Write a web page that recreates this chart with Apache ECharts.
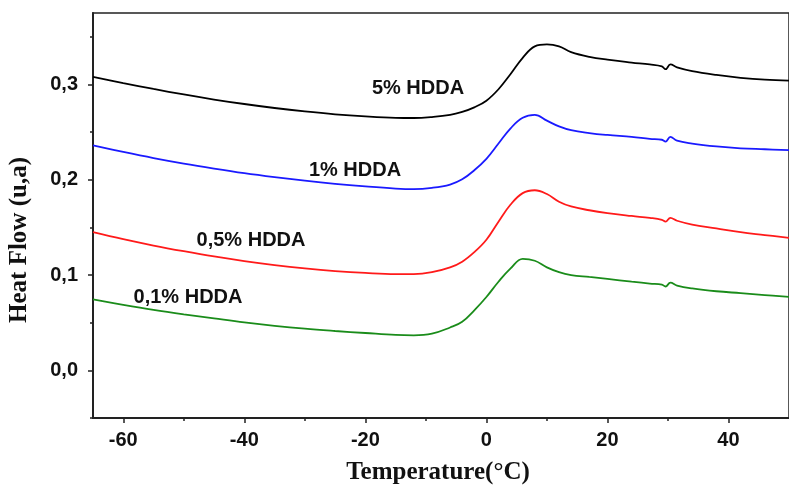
<!DOCTYPE html>
<html>
<head>
<meta charset="UTF-8">
<title>DSC HDDA</title>
<script src="https://cdn.jsdelivr.net/npm/echarts@6/dist/echarts.min.js"></script>
<style>
  html, body { margin: 0; padding: 0; background: #fff; }
  #chart { width: 789px; height: 489px; }
</style>
</head>
<body>
<div id="chart"></div>
<script>
// temperatures (°C)
var temps = [-65, -60, -55, -50, -45, -40, -35, -30, -25, -20, -15, -12, -9, -6, -4, -2, 0, 2, 4, 6, 8, 10, 12, 14, 17, 20, 24, 27, 29, 29.6, 30.4, 31.5, 34, 38, 42, 46, 50];

// heat flow (u,a) per sample
var hdda5  = [0.308, 0.3015, 0.2953, 0.2895, 0.2842, 0.2795, 0.2753, 0.2717, 0.2687, 0.2665, 0.265, 0.2648, 0.2658, 0.268, 0.2712, 0.276, 0.283, 0.295, 0.311, 0.328, 0.340, 0.342, 0.340, 0.334, 0.329, 0.326, 0.323, 0.321, 0.319, 0.316, 0.321, 0.318, 0.314, 0.310, 0.307, 0.305, 0.304];
var hdda1  = [0.236, 0.2292, 0.2228, 0.217, 0.2118, 0.207, 0.2028, 0.199, 0.1957, 0.193, 0.1908, 0.1902, 0.1915, 0.195, 0.2005, 0.210, 0.222, 0.238, 0.254, 0.265, 0.268, 0.262, 0.256, 0.252, 0.249, 0.247, 0.245, 0.243, 0.242, 0.240, 0.245, 0.241, 0.238, 0.235, 0.233, 0.232, 0.231];
var hdda05 = [0.145, 0.1377, 0.131, 0.125, 0.1195, 0.1147, 0.1105, 0.107, 0.1042, 0.1022, 0.101, 0.101, 0.103, 0.108, 0.114, 0.124, 0.137, 0.156, 0.174, 0.186, 0.189, 0.185, 0.177, 0.172, 0.168, 0.165, 0.162, 0.160, 0.158, 0.156, 0.160, 0.157, 0.153, 0.149, 0.145, 0.142, 0.139];
var hdda01 = [0.0745, 0.0688, 0.0635, 0.0588, 0.0545, 0.0503, 0.0467, 0.0437, 0.0413, 0.0392, 0.0372, 0.0368, 0.0385, 0.045, 0.051, 0.063, 0.077, 0.093, 0.107, 0.117, 0.115, 0.108, 0.103, 0.100, 0.098, 0.096, 0.093, 0.091, 0.090, 0.088, 0.092, 0.089, 0.086, 0.083, 0.081, 0.079, 0.077];

// ticks
var xMajor = [-60, -40, -20, 0, 20, 40];
var xMinor = [-50, -30, -10, 10, 30];
var yMajor = [0, 0.1, 0.2, 0.3];
var yMinor = [-0.05, 0.05, 0.15, 0.25, 0.35];

function pairs(ys) {
  var out = [];
  for (var i = 0; i < temps.length; i++) out.push([temps[i], ys[i]]);
  return out;
}

function line(name, ys, color) {
  return {
    name: name, type: 'line', data: pairs(ys),
    xAxisIndex: 0, yAxisIndex: 0,
    smooth: 0.4, showSymbol: false, silent: true,
    lineStyle: { color: color, width: 1.8 }
  };
}

var chart = echarts.init(document.getElementById('chart'));
var axisColor = '#222';
var labelFont = { color: '#111', fontSize: 20, fontWeight: 'bold', fontFamily: 'Liberation Sans, Arial, sans-serif' };
var noteFont = 'bold 20px "Liberation Sans", Arial, sans-serif';
var titleFont = 'bold 25px "Liberation Serif", "Times New Roman", serif';

chart.setOption({
  animation: false,
  grid: { left: 93, right: -4, top: 13, bottom: 71, show: true, borderColor: axisColor, borderWidth: 1.5 },
  xAxis: [
    {
      type: 'value', min: -65, max: 50, position: 'bottom',
      axisLine: { show: true, onZero: false, lineStyle: { color: axisColor, width: 2 } },
      axisTick: { show: true, length: 5, customValues: xMajor, lineStyle: { color: axisColor, width: 1.5 } },
      axisLabel: Object.assign({ margin: 12, customValues: xMajor }, labelFont),
      splitLine: { show: false }
    },
    {
      type: 'value', min: -65, max: 50, position: 'bottom',
      axisLine: { show: false, onZero: false },
      axisTick: { show: true, length: 3, customValues: xMinor, lineStyle: { color: axisColor, width: 1.5 } },
      axisLabel: { show: false },
      splitLine: { show: false }
    }
  ],
  yAxis: [
    {
      type: 'value', min: -0.05, max: 0.375, position: 'left',
      axisLine: { show: true, onZero: false, lineStyle: { color: axisColor, width: 2 } },
      axisTick: { show: true, length: 5, customValues: yMajor, lineStyle: { color: axisColor, width: 1.5 } },
      axisLabel: Object.assign({
        margin: 15, customValues: yMajor,
        formatter: function (v) { return v.toFixed(1).replace('.', ','); }
      }, labelFont),
      splitLine: { show: false }
    },
    {
      type: 'value', min: -0.05, max: 0.375, position: 'left',
      axisLine: { show: false, onZero: false },
      axisTick: { show: true, length: 3, customValues: yMinor, lineStyle: { color: axisColor, width: 1.5 } },
      axisLabel: { show: false },
      splitLine: { show: false }
    }
  ],
  series: [
    line('5% HDDA', hdda5, '#000000'),
    line('1% HDDA', hdda1, '#1a1aff'),
    line('0,5% HDDA', hdda05, '#ff1a1a'),
    line('0,1% HDDA', hdda01, '#1a8c1a')
  ],
  graphic: [
    { type: 'text', x: 418, y: 88, style: { text: '5% HDDA', align: 'center', verticalAlign: 'middle', fill: '#111', font: noteFont } },
    { type: 'text', x: 355, y: 170, style: { text: '1% HDDA', align: 'center', verticalAlign: 'middle', fill: '#111', font: noteFont } },
    { type: 'text', x: 251, y: 240, style: { text: '0,5% HDDA', align: 'center', verticalAlign: 'middle', fill: '#111', font: noteFont } },
    { type: 'text', x: 188, y: 297, style: { text: '0,1% HDDA', align: 'center', verticalAlign: 'middle', fill: '#111', font: noteFont } },
    { type: 'text', x: 438, y: 473, style: { text: 'Temperature(°C)', align: 'center', verticalAlign: 'middle', fill: '#111', font: titleFont } },
    { type: 'text', x: 20, y: 240, rotation: Math.PI / 2, style: { text: 'Heat Flow (u,a)', align: 'center', verticalAlign: 'middle', fill: '#111', font: titleFont } }
  ]
});
</script>
</body>
</html>
